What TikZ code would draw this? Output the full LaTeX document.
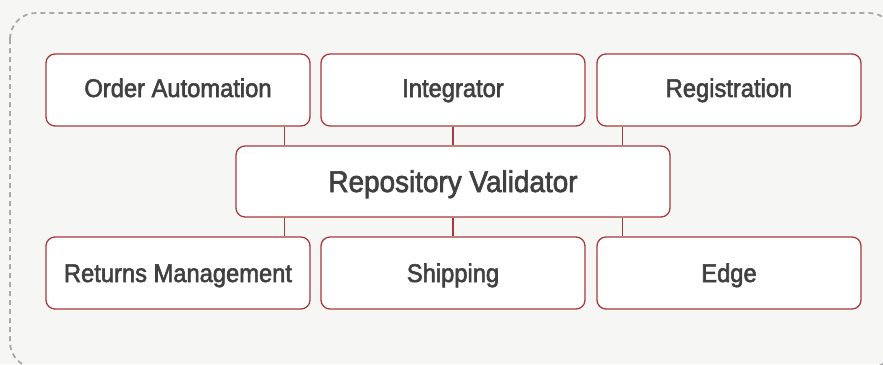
\documentclass[tikz,border=0pt]{standalone}
\usepackage{fontspec}
\setmainfont[FakeBold=2.2,FakeStretch=0.93]{Liberation Sans}
\definecolor{bg}{HTML}{F6F6F4}
\definecolor{bord}{HTML}{A8393C}
\definecolor{txt}{HTML}{404040}
\definecolor{dashgray}{HTML}{A9A9A9}
\begin{document}
\begin{tikzpicture}[x=1pt,y=-1pt,
  box/.style={draw=bord, line width=1.3pt, fill=white, rounded corners=9pt,
    minimum width=264pt, minimum height=72pt, inner sep=0pt, text=txt,
    text height=18pt, text depth=4pt,
    font=\fontsize{25.5}{30}\selectfont},
  lowbox/.style={box, text depth=0pt},
  bigbox/.style={box, minimum width=434pt, minimum height=71pt,
    text height=21pt, text depth=0pt, font=\fontsize{30}{34}\selectfont},
  link/.style={draw=bord, line width=1.2pt}]
\useasboundingbox (0,0) rectangle (883,364);
\fill[bg] (0,0) rectangle (883,364);
\begin{scope}
\clip (0,0) rectangle (883,364);
\draw[draw=dashgray, line width=1.8pt, dash pattern=on 5pt off 4pt, rounded corners=26pt] (10,13) rectangle (895,368);
\end{scope}
\node[box] (oa) at (178,90) {Order Automation};
\node[box] (in) at (453,90) {Integrator};
\node[box] (re) at (729,90) {Registration};
\node[bigbox] (rv) at (453,181.5) {Repository Validator};
\node[lowbox] (rm) at (178,273) {Returns Management};
\node[lowbox] (sh) at (453,273) {Shipping};
\node[lowbox] (ed) at (729,273) {Edge};
\draw[link] ([xshift=-26pt]oa.south east) -- ([xshift=-26pt]oa.south east |- rv.north);
\draw[link] (in.south) -- (rv.north);
\draw[link] ([xshift=26pt]re.south west) -- ([xshift=26pt]re.south west |- rv.north);
\draw[link] ([xshift=-26pt]rm.north east |- rv.south) -- ([xshift=-26pt]rm.north east);
\draw[link] (rv.south) -- (sh.north);
\draw[link] ([xshift=26pt]ed.north west |- rv.south) -- ([xshift=26pt]ed.north west);
\end{tikzpicture}
\end{document}
